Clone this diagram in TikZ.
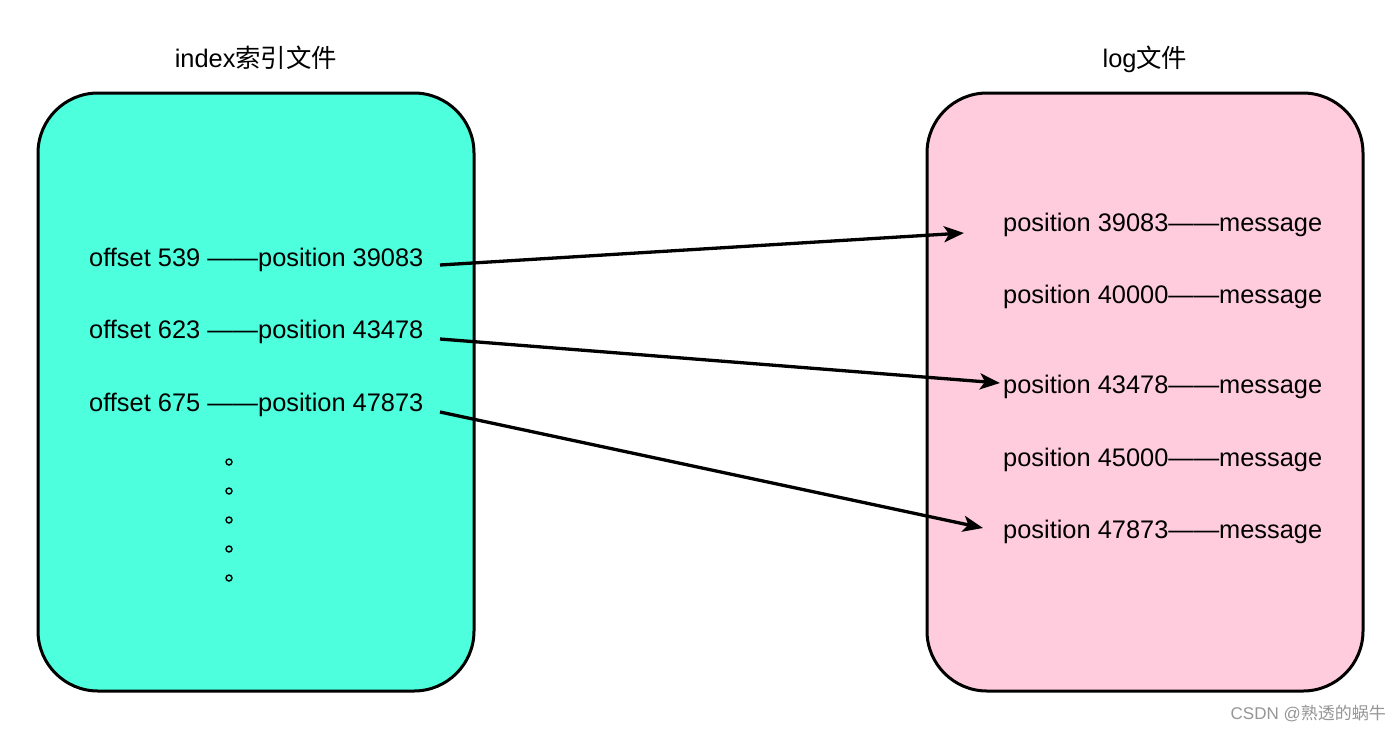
\documentclass[tikz,border=0pt]{standalone}
\usepackage{fontspec}
\setmainfont{Liberation Sans}
\newfontfamily\cjk{Noto Sans CJK SC}
\usetikzlibrary{arrows.meta}
\definecolor{idxfill}{RGB}{77,255,220}
\definecolor{logfill}{RGB}{255,204,222}
\definecolor{wmgray}{RGB}{150,150,150}
\tikzset{
  filebox/.style={draw=black, line width=3pt, rounded corners=60pt},
  rowtext/.style={inner sep=0pt, anchor=base west, font=\fontsize{25.4}{30}\selectfont},
  titletext/.style={inner sep=0pt, anchor=base, font=\fontsize{25.4}{30}\selectfont},
  link/.style={line width=3.3pt, -{Stealth[length=20pt,width=16pt,inset=5pt]}},
  dot/.style={circle, draw=black, line width=1.4pt, minimum size=6pt, inner sep=0pt},
}
\begin{document}
\begin{tikzpicture}[x=1pt,y=-1pt]
\useasboundingbox (0,0) rectangle (1400,729);
\fill[white] (0,0) rectangle (1400,729);
% boxes
\draw[filebox, fill=idxfill] (38,93) rectangle (474,691);
\draw[filebox, fill=logfill] (927,93) rectangle (1363,691);
% titles
\node[titletext] (t1) at (256,67) {index{\cjk 索引文件}};
\node[titletext] (t2) at (1145,67) {log{\cjk 文件}};
% left rows
\node[rowtext] (l1) at (89,266) {offset 539 ——position 39083};
\node[rowtext] (l2) at (89,338) {offset 623 ——position 43478};
\node[rowtext] (l3) at (89,411) {offset 675 ——position 47873};
% dots
\foreach \yy/\nm in {462/d1,491/d2,520/d3,549/d4,578/d5}
  \node[dot] (\nm) at (229,\yy) {};
% right rows
\node[rowtext] (r1) at (1003,231) {position 39083——message};
\node[rowtext] (r2) at (1003,303) {position 40000——message};
\node[rowtext] (r3) at (1003,393) {position 43478——message};
\node[rowtext] (r4) at (1003,466) {position 45000——message};
\node[rowtext] (r5) at (1003,538) {position 47873——message};
% connector endpoints
\coordinate (s1) at (440,265);
\coordinate (s2) at (440,339);
\coordinate (s3) at (440,412);
\coordinate (e1) at (964,233);
\coordinate (e2) at (1000,383);
\coordinate (e3) at (983,528);
\draw[link] (s1) -- (e1);
\draw[link] (s2) -- (e2);
\draw[link] (s3) -- (e3);
% watermark
\node[inner sep=0pt, anchor=base east, text=wmgray, font=\fontsize{17}{19}\selectfont] (wm) at (1386,719) {CSDN @{\cjk 熟透的蜗牛}};
\end{tikzpicture}
\end{document}
